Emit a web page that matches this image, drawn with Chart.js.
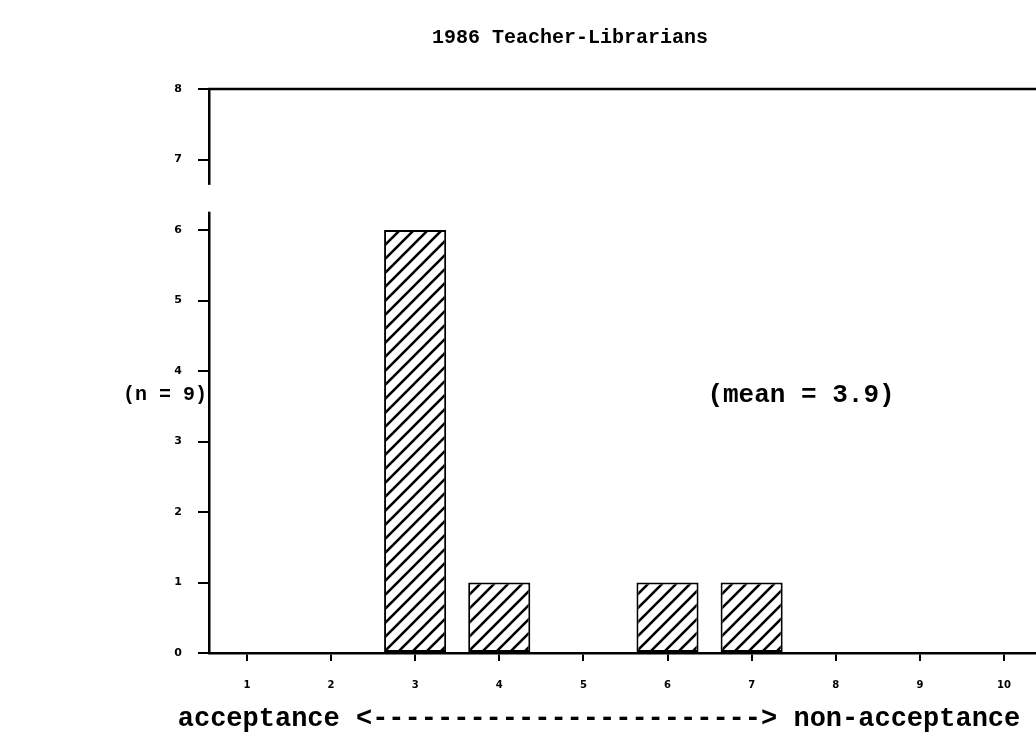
<!DOCTYPE html>
<html>
<head>
<meta charset="utf-8">
<script src="https://cdn.jsdelivr.net/npm/chart.js@4"></script>
<style>
html, body { margin: 0; padding: 0; background: #fff; }
</style>
</head>
<body>
<canvas id="myChart" width="1036" height="734"></canvas>
<script>
// data
const scores = [1, 2, 3, 4, 5, 6, 7, 8, 9, 10];
const counts = [0, 0, 6, 1, 0, 1, 1, 0, 0, 0];
const yTicks = [0, 1, 2, 3, 4, 5, 6, 7, 8];
const chartTitle = '1986 Teacher-Librarians';
const sampleNote = '(n = 9)';
const meanNote = '(mean = 3.9)';
const axisLabel = 'acceptance <------------------------> non-acceptance';

const mono = "'Liberation Mono', 'Courier New', monospace";
const small = "'DejaVu Sans', sans-serif";

// diagonal hatch for the bars
function makeHatch() {
    var c = document.createElement('canvas');
    c.width = 14;
    c.height = 14;
    var g = c.getContext('2d');
    g.fillStyle = '#fff';
    g.fillRect(0, 0, 14, 14);
    g.strokeStyle = '#000';
    g.lineWidth = 2.6;
    g.beginPath();
    g.moveTo(-2, 16); g.lineTo(16, -2);
    g.moveTo(-2, 2); g.lineTo(2, -2);
    g.moveTo(12, 16); g.lineTo(16, 12);
    g.stroke();
    return g.createPattern(c, 'repeat');
}

// frame line on top, the break in the y axis and the free texts
const extras = {
    id: 'extras',
    afterDraw(chart) {
        const ctx = chart.ctx;
        const area = chart.chartArea;
        const y = chart.scales.y;
        ctx.save();
        ctx.strokeStyle = '#000';
        ctx.lineWidth = 2.5;
        ctx.beginPath();
        ctx.moveTo(area.left - 1, area.top);
        ctx.lineTo(area.right, area.top);
        ctx.stroke();

        const gapTop = y.getPixelForValue(6.64);
        const gapBottom = y.getPixelForValue(6.26);
        ctx.fillStyle = '#fff';
        ctx.fillRect(area.left - 4, gapTop, 8, gapBottom - gapTop);

        ctx.fillStyle = '#000';
        ctx.textAlign = 'center';
        ctx.textBaseline = 'middle';
        ctx.font = 'bold 20px ' + mono;
        ctx.fillText(chartTitle, 570, 38);
        ctx.fillText(sampleNote, 165, 395);
        ctx.font = 'bold 26px ' + mono;
        ctx.fillText(meanNote, 801, 395);
        ctx.font = 'bold 27px ' + mono;
        ctx.fillText(axisLabel, 599, 719);
        ctx.restore();
    }
};

const ctx = document.getElementById('myChart').getContext('2d');
const chart = new Chart(ctx, {
    type: 'bar',
    data: {
        datasets: [{
            data: scores.map((s, i) => ({ x: s, y: counts[i] })),
            backgroundColor: makeHatch(),
            borderColor: '#000',
            borderWidth: 2,
            borderSkipped: false,
            barPercentage: 0.82,
            categoryPercentage: 0.9
        }]
    },
    options: {
        responsive: false,
        animation: false,
        layout: {
            padding: { top: 89, left: 0, right: 0, bottom: 0 }
        },
        plugins: {
            legend: { display: false },
            tooltip: { enabled: false }
        },
        scales: {
            x: {
                type: 'linear',
                min: 0.55,
                max: 10.38,
                offset: false,
                afterBuildTicks: s => { s.ticks = scores.map(v => ({ value: v })); },
                afterFit: s => { s.height = 81; },
                ticks: {
                    color: '#000',
                    padding: 18,
                    font: { family: small, size: 10, weight: 'bold' }
                },
                grid: {
                    offset: false,
                    drawOnChartArea: false,
                    drawTicks: true,
                    tickLength: 8,
                    color: '#000',
                    lineWidth: 2
                },
                border: { display: true, color: '#000', width: 2.5 }
            },
            y: {
                min: 0,
                max: 8,
                afterBuildTicks: s => { s.ticks = yTicks.map(v => ({ value: v })); },
                afterFit: s => { s.width = 209; },
                ticks: {
                    color: '#000',
                    padding: 16,
                    font: { family: small, size: 11, weight: 'bold' }
                },
                grid: {
                    drawOnChartArea: false,
                    drawTicks: true,
                    tickLength: 11,
                    color: '#000',
                    lineWidth: 2
                },
                border: { display: true, color: '#000', width: 2.5 }
            }
        }
    },
    plugins: [extras]
});
</script>
</body>
</html>
